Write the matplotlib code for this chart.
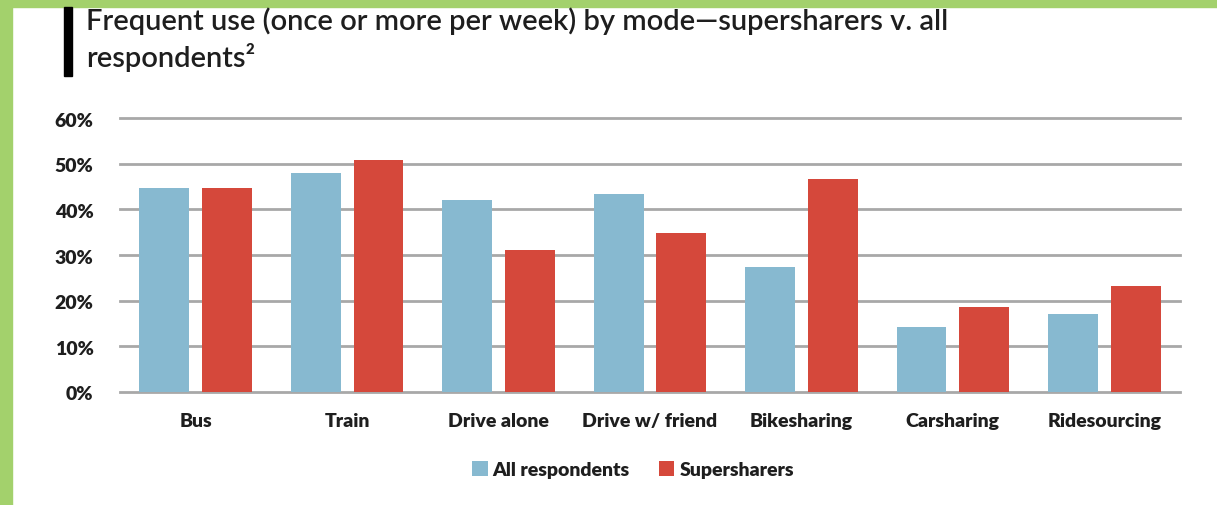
import matplotlib.pyplot as plt
import matplotlib.transforms as mtransforms
import numpy as np
from matplotlib.patches import Rectangle

modes = ['Bus', 'Train', 'Drive alone', 'Drive w/ friend', 'Bikesharing', 'Carsharing', 'Ridesourcing']
all_respondents = [44.6, 48.0, 42.0, 43.4, 27.4, 14.2, 17.1]
supersharers = [44.7, 50.8, 31.1, 34.9, 46.6, 18.5, 23.1]
y_ticks = [0, 10, 20, 30, 40, 50, 60]
series_names = ['All respondents', 'Supersharers']

BLUE = '#87b9d0'
RED = '#d5483b'
GRID = '#a8a8a8'
GREEN = '#a3d16c'
TEXT = '#1e1e1e'

W, H = 1217, 505
plt.rcParams['font.family'] = ['Lato', 'DejaVu Sans']

fig = plt.figure(figsize=(W / 100, H / 100), dpi=100)
fig.patch.set_facecolor('white')

# green frame on the left and top, black accent bar by the title
fig.patches.append(Rectangle((0, 0), 12.3 / W, 1, transform=fig.transFigure, color=GREEN, zorder=0))
fig.patches.append(Rectangle((0, 1 - 7.3 / H), 1, 7.3 / H, transform=fig.transFigure, color=GREEN, zorder=0))
fig.patches.append(Rectangle((64 / W, 1 - 76 / H), 8 / W, 69 / H, transform=fig.transFigure, color='black', zorder=1))

fig.text(86 / W, 1 - 30 / H, 'Frequent use (once or more per week) by mode\u2014supersharers v. all',
         fontsize=21, fontweight='semibold', color=TEXT, va='baseline', ha='left')
fig.text(86 / W, 1 - 67 / H, 'respondents\u00b2', fontsize=21, fontweight='semibold', color=TEXT,
         va='baseline', ha='left')

left, right = 120 / W, 1180 / W
bottom, top = 1 - 391.7 / H, 1 - 118.3 / H
ax = fig.add_axes([left, bottom, right - left, top - bottom])

x = np.arange(len(modes))
width = 0.33
off = 0.207
ax.bar(x - off, all_respondents, width, color=BLUE, label=series_names[0], zorder=2)
ax.bar(x + off, supersharers, width, color=RED, label=series_names[1], zorder=2)

ax.set_xlim(-0.5, len(modes) - 0.5)
ax.set_ylim(0, 60)
for t in y_ticks:
    ax.axhline(t, color=GRID, lw=2, zorder=1, clip_on=False)

for s in ax.spines.values():
    s.set_visible(False)
ax.set_yticks(y_ticks)
ax.set_yticklabels([f'{t}%' for t in y_ticks], fontsize=14, fontweight='heavy', color=TEXT)
ax.set_xticks(x)
ax.set_xticklabels(modes, fontsize=14, fontweight='heavy', color=TEXT)
ax.tick_params(axis='y', length=0, pad=19)
ax.tick_params(axis='x', length=0, pad=15)
# labels sit a few pixels below their gridline in the original
shift = mtransforms.ScaledTranslation(0, -3 / 100, fig.dpi_scale_trans)
for lab in ax.get_yticklabels():
    lab.set_va('center')
    lab.set_transform(lab.get_transform() + shift)

leg = fig.legend(loc='center', bbox_to_anchor=(633 / W, 1 - 470 / H), ncol=2, frameon=False,
                 prop={'size': 14, 'weight': 'heavy'}, handlelength=0.8, handleheight=0.8,
                 handletextpad=0.25, columnspacing=1.5)
for txt in leg.get_texts():
    txt.set_color(TEXT)

fig.savefig('out.png', dpi=100, facecolor='white')
